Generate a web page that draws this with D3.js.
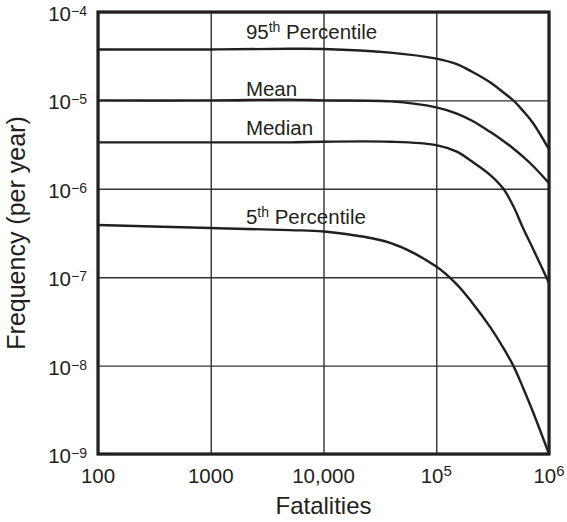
<!DOCTYPE html>
<html>
<head>
<meta charset="utf-8">
<script src="https://cdn.jsdelivr.net/npm/d3@7"></script>
<style>
    body { margin: 0; background: #fff; }
    text { font-family: "Liberation Sans", Arial, Helvetica, sans-serif; fill: #231f20; }
</style>
</head>
<body>
<div class="chart"></div>
<script>
var fatalities = [100, 1000, 5000, 10000, 39000, 1e5, 1.52e5, 2.06e5, 3.0e5, 3.94e5, 4.82e5, 5.91e5, 7.26e5, 1e6];

// frequency per year for each curve
var p95    = [3.77e-5, 3.77e-5, 3.84e-5, 3.82e-5, 3.47e-5, 2.97e-5, 2.57e-5, 2.12e-5, 1.6e-5, 1.23e-5, 1.0e-5, 7.57e-6, 5.48e-6, 2.79e-6];
var mean   = [1.0e-5, 1.0e-5, 1.02e-5, 1.0e-5, 9.75e-6, 8.35e-6, 7.1e-6, 5.92e-6, 4.41e-6, 3.48e-6, 2.86e-6, 2.3e-6, 1.8e-6, 1.16e-6];
var median = [3.35e-6, 3.35e-6, 3.35e-6, 3.41e-6, 3.41e-6, 3.12e-6, 2.63e-6, 2.05e-6, 1.44e-6, 1.0e-6, 6.38e-7, 3.56e-7, 2.06e-7, 8.6e-8];
var p5     = [3.89e-7, 3.6e-7, 3.41e-7, 3.29e-7, 2.44e-7, 1.32e-7, 8.3e-8, 5.25e-8, 2.74e-8, 1.58e-8, 1.0e-8, 5.55e-9, 2.93e-9, 1.0e-9];

var seriesNames = [["95", "th", " Percentile"], ["Mean", "", ""], ["Median", "", ""], ["5", "th", " Percentile"]];

var xTicks = [100, 1000, 10000, 1e5, 1e6];
var xTickLabels = [["100", ""], ["1000", ""], ["10,000", ""], ["10", "5"], ["10", "6"]];
var yTicks = [1e-4, 1e-5, 1e-6, 1e-7, 1e-8, 1e-9];
var yTickLabels = [["10", "\u22124"], ["10", "\u22125"], ["10", "\u22126"], ["10", "\u22127"], ["10", "\u22128"], ["10", "\u22129"]];

var xTitle = "Fatalities";
var yTitle = "Frequency (per year)";

drawChart();

function drawChart() {
    var width = 567;
    var height = 522;
    var left = 98, right = 549, plotTop = 12, plotBottom = 454;
    var ink = "#231f20";

    var svg = d3.select('.chart')
        .append('svg')
        .attr('width', width)
        .attr('height', height);

    var xscale = d3.scaleLog()
        .domain([100, 1e6])
        .range([left, right]);

    var yscale = d3.scaleLog()
        .domain([1e-9, 1e-4])
        .range([plotBottom, plotTop]);

    // gridlines from the axes
    var xgrid = d3.axisBottom(xscale)
        .tickValues(xTicks)
        .tickFormat("")
        .tickSize(-(plotBottom - plotTop));

    svg.append("g")
        .attr("transform", "translate(0," + plotBottom + ")")
        .call(xgrid)
        .call(g => g.select(".domain").remove())
        .selectAll("line")
        .attr("stroke", "#333")
        .attr("stroke-width", 1.4);

    var ygrid = d3.axisLeft(yscale)
        .tickValues(yTicks)
        .tickFormat("")
        .tickSize(-(right - left));

    svg.append("g")
        .attr("transform", "translate(" + left + ",0)")
        .call(ygrid)
        .call(g => g.select(".domain").remove())
        .selectAll("line")
        .attr("stroke", "#333")
        .attr("stroke-width", 1.4);

    // curves
    var line = d3.line()
        .x((d, i) => xscale(fatalities[i]))
        .y(d => yscale(d))
        .curve(d3.curveCatmullRom.alpha(0.5));

    var allSeries = [p95, mean, median, p5];

    svg.append("g")
        .selectAll("path")
        .data(allSeries)
        .enter()
        .append("path")
        .attr("d", d => line(d))
        .attr("fill", "none")
        .attr("stroke", ink)
        .attr("stroke-width", 2.4);

    // frame
    svg.append("rect")
        .attr("x", left)
        .attr("y", plotTop)
        .attr("width", right - left)
        .attr("height", plotBottom - plotTop)
        .attr("fill", "none")
        .attr("stroke", ink)
        .attr("stroke-width", 3.2);

    // curve labels
    var labelOffsets = [10, 4, 7, 1];
    var labels = svg.selectAll(".curve-label")
        .data(seriesNames)
        .enter()
        .append("text")
        .attr("class", "curve-label")
        .attr("x", xscale(2050))
        .attr("y", (d, i) => yscale(allSeries[i][0]) - labelOffsets[i])
        .style("font-size", "20.5px");

    labels.append("tspan").text(d => d[0]);
    labels.append("tspan")
        .text(d => d[1])
        .style("font-size", "14px")
        .attr("dy", -7);
    labels.append("tspan")
        .text(d => d[2])
        .attr("dy", d => d[1] ? 7 : 0);

    // x tick labels
    var xlab = svg.selectAll(".xlab")
        .data(xTicks)
        .enter()
        .append("text")
        .attr("class", "xlab")
        .attr("x", d => xscale(d))
        .attr("y", 483)
        .attr("text-anchor", "middle")
        .style("font-size", "20.5px");

    xlab.append("tspan").text((d, i) => xTickLabels[i][0]);
    xlab.append("tspan")
        .text((d, i) => xTickLabels[i][1])
        .style("font-size", "15px")
        .attr("dy", -7);

    // y tick labels
    var ylab = svg.selectAll(".ylab")
        .data(yTicks)
        .enter()
        .append("text")
        .attr("class", "ylab")
        .attr("x", 87)
        .attr("y", d => yscale(d) + 9)
        .attr("text-anchor", "end")
        .style("font-size", "20.5px");

    ylab.append("tspan").text((d, i) => yTickLabels[i][0]);
    ylab.append("tspan")
        .text((d, i) => yTickLabels[i][1])
        .style("font-size", "14px")
        .attr("dy", -5);

    // axis titles
    svg.append("text")
        .attr("x", (left + right) / 2)
        .attr("y", 514)
        .attr("text-anchor", "middle")
        .style("font-size", "24px")
        .text(xTitle);

    svg.append("text")
        .attr("transform", "translate(25," + ((plotTop + plotBottom) / 2) + ") rotate(-90)")
        .attr("text-anchor", "middle")
        .style("font-size", "25px")
        .text(yTitle);
}
</script>
</body>
</html>
